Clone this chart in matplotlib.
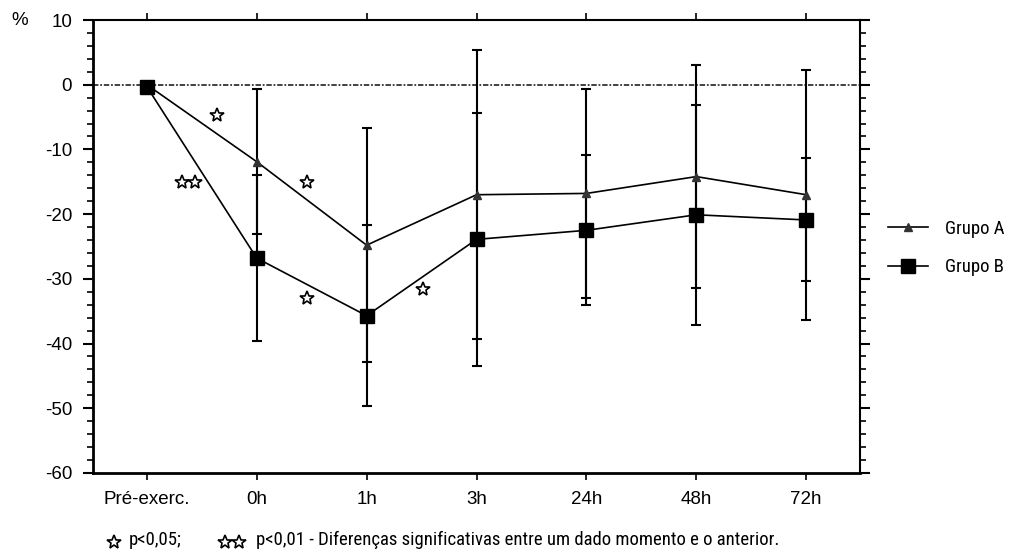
import matplotlib
matplotlib.use("Agg")
import matplotlib.pyplot as plt
from matplotlib import font_manager
from matplotlib.ticker import MultipleLocator

plt.rcParams['font.family'] = ['Liberation Sans', 'DejaVu Sans']
plt.rcParams['axes.unicode_minus'] = False

# momentos de avaliacao
momentos = ["Pré-exerc.", "0h", "1h", "3h", "24h", "48h", "72h"]

# variacao percentual media e desvio padrao por grupo
grupo_a = [0.0, -11.9, -24.8, -17.0, -16.8, -14.2, -17.0]
dp_a = [0.0, 11.2, 18.1, 22.3, 16.2, 17.2, 19.3]
grupo_b = [-0.3, -26.8, -35.7, -23.9, -22.5, -20.1, -20.9]
dp_b = [0.0, 12.8, 14.0, 19.5, 11.6, 17.0, 9.5]

# estrelas de significancia (posicao no eixo x, valor y)
estrelas_x = [0.64, 0.32, 0.44, 1.46, 1.46, 2.51]
estrelas_y = [-4.7, -15.0, -15.0, -15.0, -32.9, -31.5]

# fonte estreita para legenda e rodape, se houver
nomes = {f.name for f in font_manager.fontManager.ttflist}
estreita = None
for nome in ['Liberation Sans Narrow', 'Arial Narrow', 'Roboto Condensed',
             'Open Sans Condensed', 'Noto Sans Condensed']:
    if nome in nomes:
        estreita = nome
        break
if estreita:
    fonte_nota = dict(family=[estreita, 'DejaVu Sans'], size=13.5)
else:
    fonte_nota = dict(family=['Liberation Sans', 'DejaVu Sans'], size=11.5)

fig = plt.figure(figsize=(10.14, 5.51), dpi=100)
ax = fig.add_axes([0.0917, 0.1416, 0.7565, 0.8221])

x = list(range(len(momentos)))

# linha de referencia em 0 %
ax.axhline(0, color='#333333', linewidth=1.3, linestyle=(0, (3, 1, 1, 1)), zorder=1)

# barras de erro (sem o pre-exercicio)
ax.errorbar(x[1:], grupo_a[1:], yerr=dp_a[1:], fmt='none', ecolor='black',
            elinewidth=1.5, capsize=3.5, capthick=1.5, zorder=2)
ax.errorbar(x[1:], grupo_b[1:], yerr=dp_b[1:], fmt='none', ecolor='black',
            elinewidth=1.5, capsize=3.5, capthick=1.5, zorder=2)

ax.plot(x, grupo_a, color='black', linewidth=1.2, marker='^', markersize=6,
        markerfacecolor='#333333', markeredgecolor='#333333', label='Grupo A', zorder=3)
ax.plot(x, grupo_b, color='black', linewidth=1.2, marker='s', markersize=9.5,
        markerfacecolor='black', markeredgecolor='black', label='Grupo B', zorder=3)

ax.plot(estrelas_x, estrelas_y, linestyle='none', marker='*', markersize=10,
        markerfacecolor='white', markeredgecolor='black', markeredgewidth=1.2, zorder=4)

ax.set_xlim(-0.49, 6.49)
ax.set_ylim(-60, 10)
ax.set_xticks(x)
ax.set_xticklabels(momentos, fontsize=13.5)
ax.yaxis.set_major_locator(MultipleLocator(10))
ax.yaxis.set_minor_locator(MultipleLocator(2))

ax.tick_params(axis='y', which='major', direction='out', length=7, width=1.5,
               labelsize=13.5, right=True, pad=8)
ax.tick_params(axis='y', which='minor', direction='out', length=4, width=1.2, right=True)
ax.tick_params(axis='x', which='major', direction='out', length=5, width=1.2,
               top=True, pad=8)

for lado in ['left', 'bottom']:
    ax.spines[lado].set_linewidth(2.0)
for lado in ['top', 'right']:
    ax.spines[lado].set_linewidth(1.5)

fig.text(0.011, 0.962, '%', fontsize=13.5, va='center', ha='left')

ax.legend(loc='center left', bbox_to_anchor=(1.036, 0.497), frameon=False,
          borderpad=0, borderaxespad=0, handlelength=2.15, labelspacing=1.1,
          handletextpad=0.9, prop=fonte_nota)

# nota de rodape
ax.plot([0.112, 0.222, 0.236], [0.017, 0.017, 0.017], transform=fig.transFigure,
        clip_on=False, linestyle='none', marker='*', markersize=10,
        markerfacecolor='white', markeredgecolor='black', markeredgewidth=1.2)
fig.text(0.127, 0.02, 'p<0,05;', va='center', ha='left', **fonte_nota)
fig.text(0.252, 0.02, 'p<0,01 - Diferenças significativas entre um dado momento e o anterior.',
         va='center', ha='left', **fonte_nota)

fig.savefig('out.png', dpi=100)
